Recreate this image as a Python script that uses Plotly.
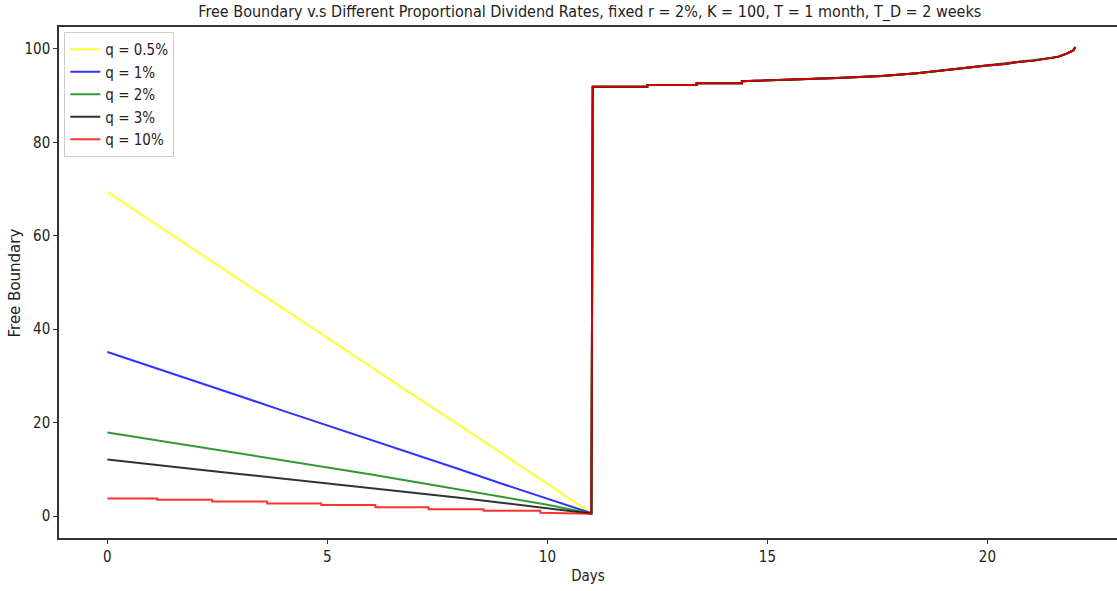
import plotly.graph_objects as go

# Left part (before dividend date): days and boundary values per series
days_left = [0, 1, 2, 3, 4, 5, 6, 7, 8, 9, 10, 11]
q05_left = [69.4, 63.1, 56.9, 50.6, 44.4, 38.1, 31.9, 25.6, 19.4, 13.1, 6.9, 0.6]
q1_left = [35.1, 32.0, 28.8, 25.7, 22.5, 19.4, 16.3, 13.1, 10.0, 6.8, 3.7, 0.6]
q2_left = [17.9, 16.4, 14.9, 13.4, 12.0, 10.5, 8.9, 7.3, 5.7, 4.1, 2.4, 0.5]
q3_left = [12.1, 11.0, 10.0, 9.0, 8.0, 6.9, 5.9, 4.9, 3.9, 2.8, 1.7, 0.5]

# red (q = 10%) is visibly stepped
q10_days_left = [0, 1.13, 1.13, 2.38, 2.38, 3.63, 3.63, 4.86, 4.86, 6.09, 6.09, 7.3, 7.3, 8.55, 8.55, 9.84, 9.84, 11]
q10_left = [3.75, 3.75, 3.5, 3.5, 3.1, 3.1, 2.7, 2.7, 2.35, 2.35, 1.9, 1.9, 1.45, 1.45, 1.1, 1.1, 0.7, 0.5]

# Right part (after dividend date), shared by all series
days_right = [11.03, 12.27, 12.27, 13.39, 13.39, 14.42, 14.42, 15.5, 16.6, 17.6, 18.4, 18.97,
              19.5, 19.95, 20.4, 20.7, 21.05, 21.3, 21.6, 21.8, 21.95, 22.0]
fb_right = [91.9, 91.9, 92.3, 92.3, 92.65, 92.65, 93.1, 93.4, 93.8, 94.2, 94.8, 95.4,
            96.0, 96.4, 96.8, 97.2, 97.5, 97.9, 98.3, 99.0, 99.7, 100.4]

labels = ["q = 0.5%", "q = 1%", "q = 2%", "q = 3%", "q = 10%"]
colors = ["#ffff00", "#0000ff", "#008000", "#000000", "#ff0000"]

series_x = [days_left, days_left, days_left, days_left, q10_days_left]
series_y = [q05_left, q1_left, q2_left, q3_left, q10_left]

title = "Free Boundary v.s Different Proportional Dividend Rates, fixed r = 2%, K = 100, T = 1 month, T_D = 2 weeks"

NARROW = "Liberation Sans Narrow, Arial Narrow, DejaVu Sans Condensed, sans-serif"

fig = go.Figure()
for lab, col, xs, ys in zip(labels, colors, series_x, series_y):
    fig.add_trace(go.Scatter(
        x=list(xs) + list(days_right),
        y=list(ys) + list(fb_right),
        mode="lines", name=lab,
        line=dict(color=col, width=2),
        opacity=0.8,
    ))

fig.update_layout(
    width=1117, height=591,
    margin=dict(l=59, r=0, t=27, b=53),
    paper_bgcolor="white", plot_bgcolor="white",
    title=dict(text=title, x=0.528, xanchor="center", y=0.98, yanchor="middle",
               font=dict(family=NARROW, size=16, color="#222")),
    font=dict(family=NARROW, size=15, color="#222"),
    showlegend=True,
    legend=dict(x=0.005, y=0.99, xanchor="left", yanchor="top",
                bgcolor="white", bordercolor="#cccccc", borderwidth=1,
                font=dict(family=NARROW, size=15, color="#222"),
                tracegroupgap=0, itemwidth=30),
    annotations=[dict(text="Free Boundary", xref="paper", yref="paper",
                      x=-0.0416, y=0.5, xanchor="center", yanchor="middle",
                      textangle=-90, showarrow=False,
                      font=dict(family="DejaVu Sans", size=15, color="#222"))],
)
fig.update_xaxes(
    range=[-1.1, 22.945], tickvals=[0, 5, 10, 15, 20],
    showgrid=False, zeroline=False,
    showline=True, linecolor="#333", linewidth=1.5, mirror=True,
    ticks="outside", ticklen=4, tickcolor="#333",
    title=dict(text="Days", font=dict(family=NARROW, size=15), standoff=6),
)
fig.update_yaxes(
    range=[-4.71, 104.7], tickvals=[0, 20, 40, 60, 80, 100],
    showgrid=False, zeroline=False,
    showline=True, linecolor="#333", linewidth=1.5,
    ticks="outside", ticklen=4, tickcolor="#333",
)

fig.write_html("out.html")
